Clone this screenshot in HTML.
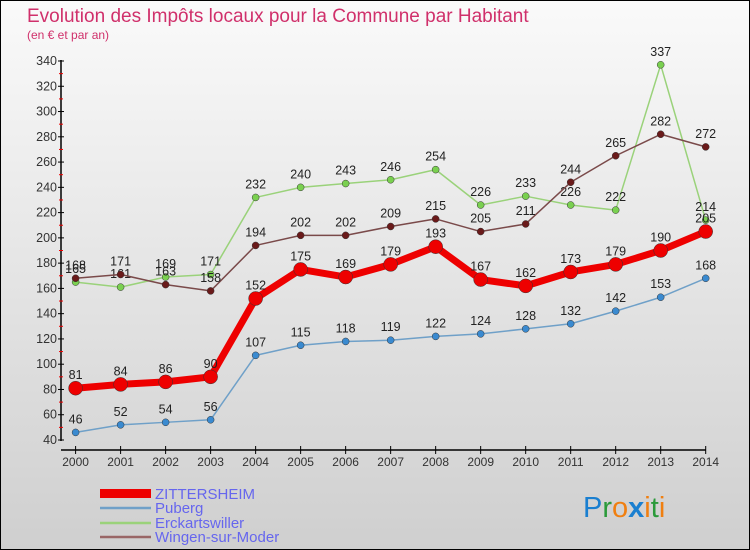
<!DOCTYPE html>
<html><head><meta charset="utf-8"><style>
body{margin:0;}
svg{display:block;font-family:"Liberation Sans",sans-serif;}
</style></head><body>
<svg width="750" height="550" viewBox="0 0 750 550">
<defs><linearGradient id="bg" x1="0" y1="0" x2="0" y2="1"><stop offset="0" stop-color="#fafafa"/><stop offset="1" stop-color="#cfcfcf"/></linearGradient></defs>
<rect x="0.5" y="0.5" width="749" height="549" fill="url(#bg)" stroke="#000"/>
<text x="27" y="22" font-size="19" fill="#d0306b">Evolution des Impôts locaux pour la Commune par Habitant</text>
<text x="27" y="39" font-size="12" fill="#d0306b">(en € et par an)</text>
<g id="axes"></g>
<g id="series"></g>
<g id="legend">
<rect x="100" y="489" width="51" height="9" fill="#e00"/>
<text x="155" y="499" font-size="15" fill="#6666ee">ZITTERSHEIM</text>
<line x1="100" y1="508" x2="151" y2="508" stroke="#6fa0c8" stroke-width="2.5"/>
<text x="155" y="513" font-size="15" fill="#6666ee">Puberg</text>
<line x1="100" y1="523" x2="151" y2="523" stroke="#9ad27a" stroke-width="2.5"/>
<text x="155" y="528" font-size="15" fill="#6666ee">Erckartswiller</text>
<line x1="100" y1="537" x2="151" y2="537" stroke="#996666" stroke-width="2.5"/>
<text x="155" y="542" font-size="15" fill="#6666ee">Wingen-sur-Moder</text>
</g>
<g font-size="29" font-family="'Liberation Sans',sans-serif">
<text x="583" y="517"><tspan fill="#1a7fd0">P</tspan><tspan fill="#2a9a3a">r</tspan><tspan fill="#f07f10">o</tspan><tspan fill="#1a7fd0" font-weight="bold">x</tspan><tspan fill="#f07f10">i</tspan><tspan fill="#2a9a3a">t</tspan><tspan fill="#f07f10">i</tspan></text>
</g>
</svg>
<script>
const years=[2000,2001,2002,2003,2004,2005,2006,2007,2008,2009,2010,2011,2012,2013,2014];
const zittersheim=[81,84,86,90,152,175,169,179,193,167,162,173,179,190,205];
const puberg=[46,52,54,56,107,115,118,119,122,124,128,132,142,153,168];
const erckartswiller=[165,161,169,171,232,240,243,246,254,226,233,226,222,337,214];
const wingen=[168,171,163,158,194,202,202,209,215,205,211,244,265,282,272];
const yTicks=[40,60,80,100,120,140,160,180,200,220,240,260,280,300,320,340];
const NS="http://www.w3.org/2000/svg";
function xs(i){return 75.6+i*(705.7-75.6)/(years.length-1);}
function ys(v){return 440-(v-40)*(379/300);}
function mk(tag,attrs,parent){const e=document.createElementNS(NS,tag);for(const k in attrs)e.setAttribute(k,attrs[k]);parent.appendChild(e);return e;}
const ax=document.getElementById('axes');
let a=mk('line',{x1:61,y1:60,x2:61,y2:441,stroke:'#000','stroke-width':1.5},ax);


a=mk('line',{x1:61,y1:450,x2:706,y2:450,stroke:'#000','stroke-width':1.5},ax);


yTicks.forEach((t,i)=>{
 const y=ys(t);
 mk('line',{x1:58,y1:y,x2:64,y2:y,stroke:'#000'},ax);
 if(i<yTicks.length-1)mk('line',{x1:59,y1:ys(t+10),x2:63,y2:ys(t+10),stroke:'#e00'},ax);
 const tx=mk('text',{x:57,y:y+4,'font-size':12.5,'text-anchor':'end',fill:'#333'},ax);
 tx.textContent=t;
 
 
});
years.forEach((yr,i)=>{
 const x=xs(i);
 mk('line',{x1:x,y1:446,x2:x,y2:454,stroke:'#000'},ax);
 const tx=mk('text',{x:x,y:466,'font-size':12,'text-anchor':'middle',fill:'#333'},ax);
 tx.textContent=yr;
 
 
});
const sg=document.getElementById('series');
function draw(vals,name,color,w,r,dot){
 const g=mk('g',{},sg);
 
 
 const pts=vals.map((v,i)=>xs(i)+','+ys(v)).join(' ');
 mk('polyline',{points:pts,fill:'none',stroke:color,'stroke-width':w,'stroke-linejoin':'round'},g);
 vals.forEach((v,i)=>{
  const c=mk('circle',{cx:xs(i),cy:ys(v),r:r,fill:dot,stroke:'#333','stroke-width':0.5},g);
  
  
  const t=mk('text',{x:xs(i),y:ys(v)-9,'font-size':12.5,'text-anchor':'middle',fill:'#222'},g);
  t.textContent=v;
  
  
 });
}
draw(puberg,'puberg','#6fa0c8',1.5,3.5,'#3a8ad0');
draw(erckartswiller,'erckartswiller','#9ad27a',1.5,3.5,'#7ad050');
draw(wingen,'wingen-sur-moder','#7a4a4a',1.5,3.5,'#6a1a1a');
draw(zittersheim,'zittersheim','#e00',7,7,'#e00');
</script>
</body></html>
